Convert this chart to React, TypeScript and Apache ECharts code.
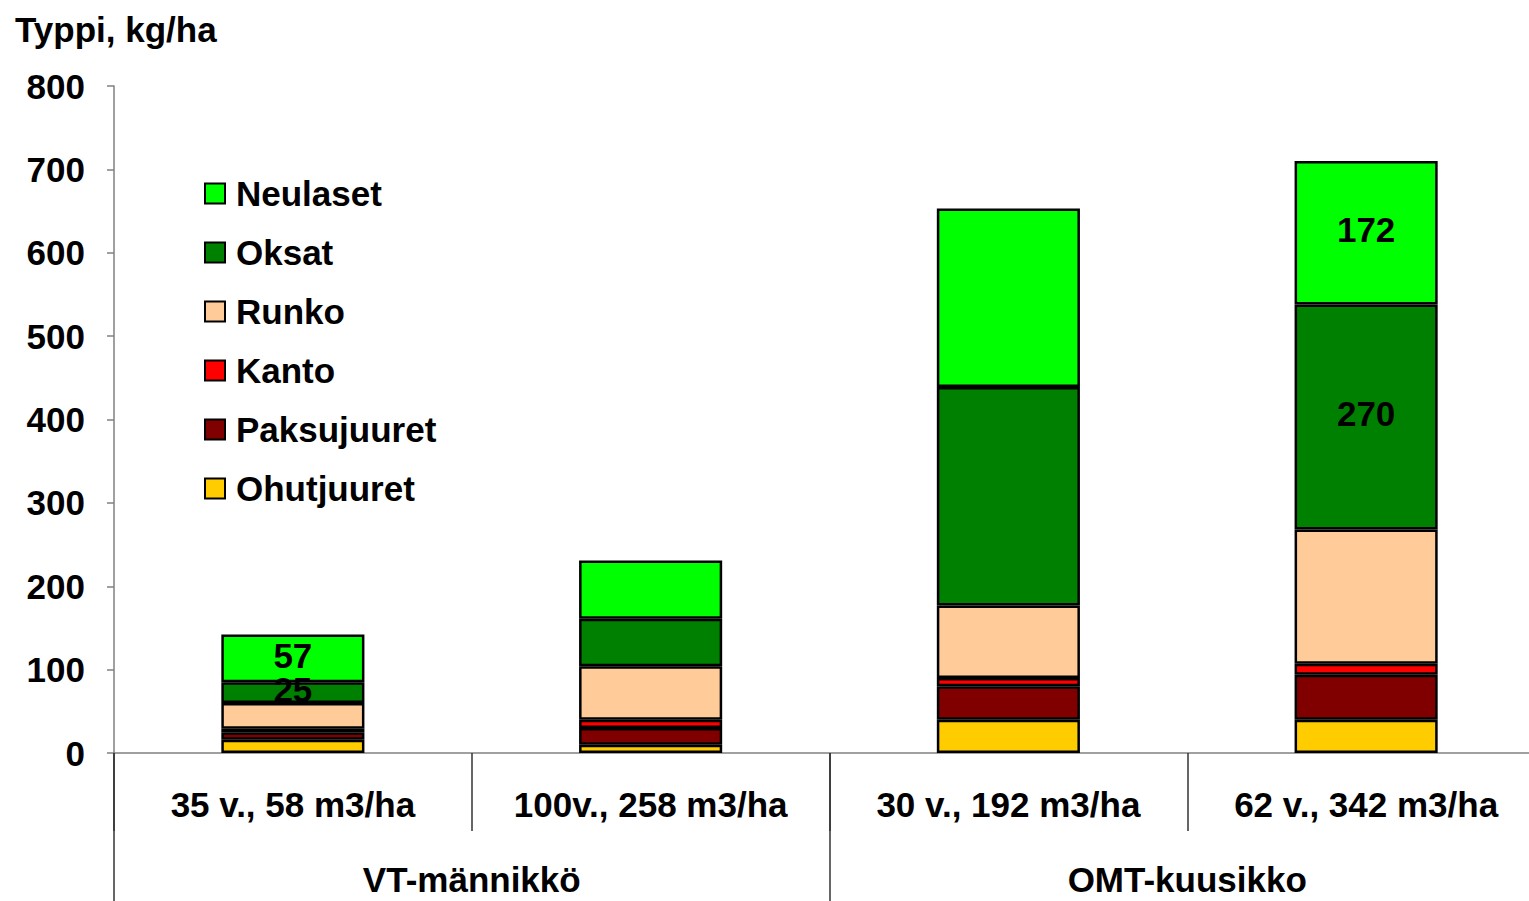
import React, { useEffect, useRef } from "react";
import * as echarts from "echarts";

const categories = ["35 v., 58 m3/ha", "100v., 258 m3/ha", "30 v., 192 m3/ha", "62 v., 342 m3/ha"];
const groups = ["VT-männikkö", "OMT-kuusikko"];
const yTicks = [0, 100, 200, 300, 400, 500, 600, 700, 800];

const ohutjuuret = [16, 10, 40, 40];
const paksujuuret = [9, 20, 40, 54];
const kanto = [4, 10, 10, 13];
const runko = [31, 64, 87, 161];
const oksat = [25, 57, 262, 270];
const neulaset = [57, 70, 214, 172];

// which values carry a visible label
const oksatLabelShown = [true, false, false, true];
const neulasetLabelShown = [true, false, false, true];

const FONT = "'Liberation Sans', Arial, sans-serif";
const FS = 35;

export default function App() {
  const ref = useRef<HTMLDivElement>(null);
  useEffect(() => {
    document.body.style.margin = "0";
    document.body.style.overflow = "hidden";
    const chart = echarts.init(ref.current!, null, { renderer: "svg" });
    const axisColor = "#808080";
    const mk = (name: string, data: number[], color: string, shown?: boolean[]) => ({
      name,
      type: "bar",
      stack: "total",
      barWidth: "40%",
      itemStyle: { color, borderColor: "#000", borderWidth: 2.5 },
      data: data.map((v, i) => ({
        value: v,
        label: {
          show: shown ? shown[i] : false,
          position: "inside",
          offset: [0, -3],
          color: "#000",
          fontWeight: "bold",
          fontSize: FS,
          fontFamily: FONT,
        },
      })),
    });
    chart.setOption({
      animation: false,
      title: {
        text: "Typpi, kg/ha",
        left: 15,
        top: 12,
        padding: 0,
        textStyle: { fontSize: FS, fontWeight: "bold", fontFamily: FONT, color: "#000" },
      },
      legend: {
        orient: "vertical",
        left: 204,
        top: 176,
        padding: 0,
        itemWidth: 20,
        itemHeight: 20,
        itemGap: 24,
        icon: "rect",
        data: ["Neulaset", "Oksat", "Runko", "Kanto", "Paksujuuret", "Ohutjuuret"],
        textStyle: { fontSize: FS, fontWeight: "bold", fontFamily: FONT, color: "#000", padding: [0, 0, 0, 6] },
      },
      grid: { left: 114, right: 0, top: 86, bottom: 148, containLabel: false },
      xAxis: [
        {
          type: "category",
          data: categories,
          position: "bottom",
          axisLine: { show: true, lineStyle: { color: axisColor, width: 1.5 } },
          axisTick: { show: true, length: 78, lineStyle: { color: "#333", width: 1.5 } },
          axisLabel: { margin: 34, fontSize: FS, fontWeight: "bold", fontFamily: FONT, color: "#000", interval: 0 },
        },
        {
          type: "category",
          data: groups,
          position: "bottom",
          offset: 0,
          axisLine: { show: false },
          axisTick: { show: true, length: 150, lineStyle: { color: "#333", width: 1.5 } },
          axisLabel: { margin: 109, fontSize: FS, fontWeight: "bold", fontFamily: FONT, color: "#000", interval: 0 },
        },
      ],
      yAxis: {
        type: "value",
        min: yTicks[0],
        max: yTicks[yTicks.length - 1],
        interval: 100,
        axisLine: { show: true, lineStyle: { color: axisColor, width: 1.5 } },
        axisTick: { show: true, length: 7, lineStyle: { color: axisColor, width: 1.5 } },
        splitLine: { show: false },
        axisLabel: { margin: 29, fontSize: FS, fontWeight: "bold", fontFamily: FONT, color: "#000" },
      },
      series: [
        mk("Ohutjuuret", ohutjuuret, "#FFCC00"),
        mk("Paksujuuret", paksujuuret, "#800000"),
        mk("Kanto", kanto, "#FF0000"),
        mk("Runko", runko, "#FFCC99"),
        mk("Oksat", oksat, "#008000", oksatLabelShown),
        mk("Neulaset", neulaset, "#00FF00", neulasetLabelShown),
      ],
    });
    return () => chart.dispose();
  }, []);
  return <div ref={ref} style={{ width: 1545, height: 901 }} />;
}
